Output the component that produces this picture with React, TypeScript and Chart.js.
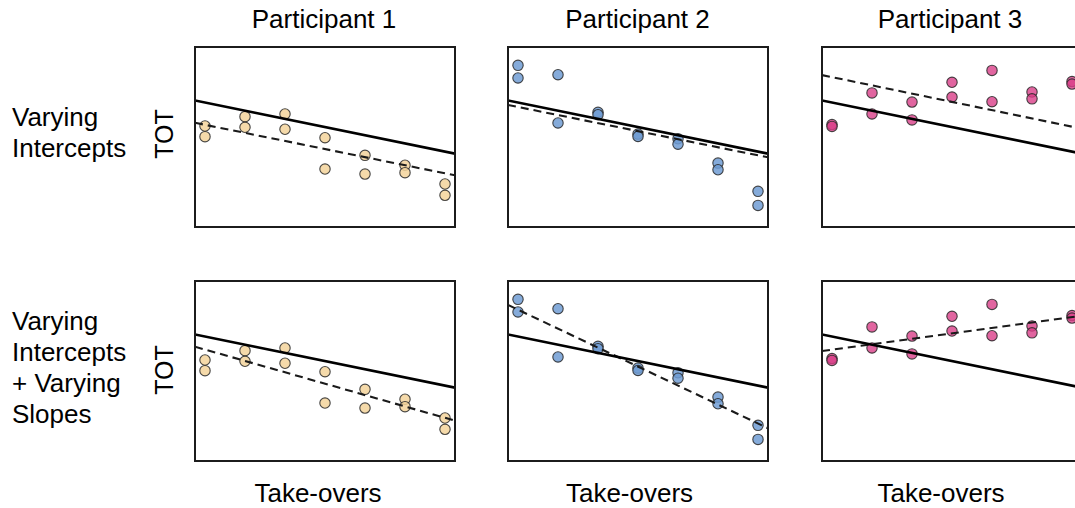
import React, { useEffect, useRef } from "react";
import { Chart, registerables } from "chart.js";

Chart.register(...registerables);

// ---------- data ----------
const takeOvers = [1, 1, 2, 2, 3, 3, 4, 4, 5, 5, 6, 6, 7, 7];
const lineX = [0.75, 7.25];

const participantTitles = ["Participant 1", "Participant 2", "Participant 3"];
const rowLabels = [
  ["Varying", "Intercepts"],
  ["Varying", "Intercepts", "+ Varying", "Slopes"],
];
const yLabel = "TOT";
const xLabel = "Take-overs";

const totP1 = [5.61, 5.02, 6.13, 5.54, 6.28, 5.43, 4.96, 3.22, 3.98, 2.94, 3.43, 3.02, 2.39, 1.76];
const totP2 = [8.98, 8.28, 8.46, 5.78, 6.37, 6.24, 5.16, 5.03, 4.9, 4.6, 3.55, 3.18, 1.98, 1.2];
const totP3 = [5.69, 5.59, 7.45, 6.28, 6.94, 5.95, 8.04, 7.22, 8.7, 6.96, 7.5, 7.12, 8.08, 7.94];

// population (fixed-effect) line, endpoints at lineX
const fixedLine = [7.03, 4.07];
// varying intercepts model: per-participant lines
const interceptLineP1 = [5.79, 2.87];
const interceptLineP2 = [6.78, 3.87];
const interceptLineP3 = [8.44, 5.46];
// varying intercepts + slopes model
const slopeLineP1 = [6.35, 2.24];
const slopeLineP2 = [8.67, 1.82];
const slopeLineP3 = [6.11, 8.07];

const fillColors = ["rgba(243,211,155,0.85)", "rgba(112,156,212,0.85)", "rgba(218,62,136,0.8)"];

// ---------- layout ----------
const colLefts = [195, 508, 822];
const rowTops = [47, 281];
const areaW = 260;
const areaH = 180;
const FONT = '"Liberation Sans", Arial, Helvetica, sans-serif';
const FS = 26;

const framePlugin = {
  id: "frame",
  afterDraw(chart: any) {
    const { ctx, chartArea } = chart;
    ctx.save();
    ctx.strokeStyle = "#1c1c1c";
    ctx.lineWidth = 2;
    ctx.strokeRect(chartArea.left, chartArea.top, chartArea.right - chartArea.left, chartArea.bottom - chartArea.top);
    ctx.restore();
  },
};

function Panel(props: { tot: number[]; dashed: number[]; color: string; left: number; top: number }) {
  const ref = useRef<HTMLCanvasElement>(null);
  useEffect(() => {
    if (!ref.current) return;
    const pts = takeOvers.map((x, i) => ({ x, y: props.tot[i] }));
    const solid = lineX.map((x, i) => ({ x, y: fixedLine[i] }));
    const dash = lineX.map((x, i) => ({ x, y: props.dashed[i] }));
    const chart = new Chart(ref.current, {
      type: "scatter",
      data: {
        datasets: [
          {
            data: solid,
            showLine: true,
            borderColor: "#000",
            borderWidth: 2.7,
            pointRadius: 0,
            order: 0,
          },
          {
            data: dash,
            showLine: true,
            borderColor: "#1a1a1a",
            borderWidth: 2.1,
            borderDash: [8, 5],
            pointRadius: 0,
            order: 1,
          },
          {
            data: pts,
            showLine: false,
            pointRadius: 5.2,
            pointBorderWidth: 1.1,
            backgroundColor: props.color,
            borderColor: "rgba(40,40,40,0.85)",
            order: 2,
            clip: false,
          } as any,
        ],
      },
      options: {
        responsive: false,
        animation: false,
        devicePixelRatio: 1,
        events: [],
        layout: { padding: 1, autoPadding: false } as any,
        plugins: { legend: { display: false }, tooltip: { enabled: false } },
        scales: {
          x: { type: "linear", min: lineX[0], max: lineX[1], display: false },
          y: { type: "linear", min: 0, max: 10, display: false },
        },
      },
      plugins: [framePlugin],
    });
    return () => chart.destroy();
  }, []);
  return (
    <canvas
      ref={ref}
      width={areaW + 2}
      height={areaH + 2}
      style={{ position: "absolute", left: props.left - 1, top: props.top - 1, width: areaW + 2, height: areaH + 2 }}
    />
  );
}

const titleCenters = [324, 637.5, 950];
const xLabelCenters = [318, 629.5, 941];

export default function App() {
  const totData = [totP1, totP2, totP3];
  const rowLines = [
    [interceptLineP1, interceptLineP2, interceptLineP3],
    [slopeLineP1, slopeLineP2, slopeLineP3],
  ];
  const text: React.CSSProperties = { position: "absolute", fontSize: FS, whiteSpace: "nowrap", color: "#000" };
  return (
    <div
      style={{
        position: "fixed",
        left: 0,
        top: 0,
        width: 1075,
        height: 508,
        overflow: "hidden",
        background: "#fff",
        fontFamily: FONT,
      }}
    >
      {participantTitles.map((t, i) => (
        <div key={t} style={{ ...text, left: titleCenters[i] - 150, width: 300, textAlign: "center", top: 6, lineHeight: FS + "px" }}>
          {t}
        </div>
      ))}
      {xLabelCenters.map((c, i) => (
        <div key={"x" + i} style={{ ...text, left: c - 150, width: 300, textAlign: "center", top: 480, lineHeight: FS + "px" }}>
          {xLabel}
        </div>
      ))}
      {rowLabels.map((lines, r) => (
        <div key={"r" + r} style={{ ...text, left: 12, top: r === 0 ? 101.5 : 305.5, lineHeight: "31px" }}>
          {lines.map((l) => (
            <div key={l}>{l}</div>
          ))}
        </div>
      ))}
      {[134, 370].map((cy, r) => (
        <div
          key={"y" + r}
          style={{
            ...text,
            left: 163.5 - 50,
            top: cy - 15,
            width: 100,
            height: 30,
            lineHeight: "30px",
            textAlign: "center",
            fontSize: 25,
            transform: "rotate(-90deg)",
          }}
        >
          {yLabel}
        </div>
      ))}
      {rowTops.map((top, r) =>
        colLefts.map((left, c) => (
          <Panel key={r + "-" + c} tot={totData[c]} dashed={rowLines[r][c]} color={fillColors[c]} left={left} top={top} />
        ))
      )}
    </div>
  );
}
